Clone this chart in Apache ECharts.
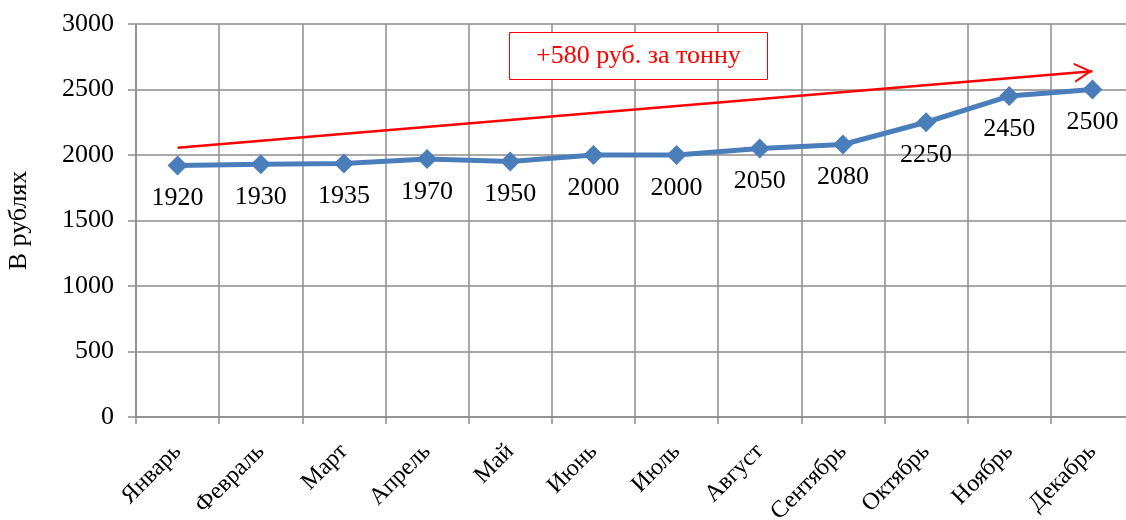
<!DOCTYPE html>
<html>
<head>
<meta charset="utf-8">
<script src="https://cdn.jsdelivr.net/npm/echarts@6/dist/echarts.min.js"></script>
<style>
  html, body { margin: 0; padding: 0; background: #fff; overflow: hidden; }
  /* the plot's last column runs a few pixels past the window edge */
  #chart { width: 1134px; height: 520px; }
</style>
</head>
<body>
<div id="chart"></div>
<script>
// Monthly price per tonne, rubles
const months = ['Январь', 'Февраль', 'Март', 'Апрель', 'Май', 'Июнь', 'Июль', 'Август', 'Сентябрь', 'Октябрь', 'Ноябрь', 'Декабрь'];
const prices = [1920, 1930, 1935, 1970, 1950, 2000, 2000, 2050, 2080, 2250, 2450, 2500];
const yTicks = [0, 500, 1000, 1500, 2000, 2500, 3000];
// Trend arrow endpoints (value level at first and last month)
const trendFrom = ['Январь', 2055];
const trendTo = ['Декабрь', 2640];
const trendNote = '+580 руб. за тонну';

const serif = '"Liberation Serif", "Times New Roman", serif';
const gridGray = '#8c8c8c';

// open arrowhead; the empty move at the top puts the tip at the symbol centre
const arrowHead = 'path://M10,-18 L10,-18 M10,0 L20,18 L17.8,18 L10,4 L2.2,18 L0,18 Z';

const chart = echarts.init(document.getElementById('chart'));
chart.setOption({
  animation: false,
  backgroundColor: '#fff',
  textStyle: { fontFamily: serif },
  title: {
    text: trendNote,
    left: 509,
    top: 32,
    padding: [11, 27, 11, 27],
    borderColor: '#ff0000',
    borderWidth: 1,
    backgroundColor: '#fff',
    textStyle: { color: '#ff0000', fontSize: 26, fontWeight: 'normal', fontFamily: serif }
  },
  grid: { left: 136, top: 24, right: 0, height: 393, containLabel: false, outerBoundsMode: 'none' },
  xAxis: {
    type: 'category',
    data: months,
    boundaryGap: true,
    axisLine: { lineStyle: { color: gridGray, width: 1.5 } },
    axisTick: { show: true, alignWithLabel: false, length: 7, lineStyle: { color: gridGray, width: 1.5 } },
    splitLine: { show: true, interval: 0, lineStyle: { color: gridGray, width: 1.5 } },
    axisLabel: { rotate: 45, interval: 0, margin: 31, color: '#000', fontSize: 24, fontFamily: serif }
  },
  yAxis: {
    type: 'value',
    min: yTicks[0],
    max: yTicks[yTicks.length - 1],
    interval: yTicks[1] - yTicks[0],
    name: 'В рублях',
    nameLocation: 'middle',
    nameGap: 104,
    nameRotate: 90,
    nameTextStyle: { color: '#000', fontSize: 26, fontFamily: serif },
    axisLine: { show: true, lineStyle: { color: gridGray, width: 1.5 } },
    axisTick: { show: true, length: 8, lineStyle: { color: gridGray, width: 1.5 } },
    splitLine: { show: true, lineStyle: { color: gridGray, width: 1.5 } },
    axisLabel: { margin: 22, color: '#000', fontSize: 26, fontFamily: serif, formatter: v => String(v) }
  },
  series: [{
    type: 'line',
    data: prices,
    symbol: 'diamond',
    symbolSize: 20,
    lineStyle: { color: '#4a7ebb', width: 5 },
    itemStyle: { color: '#4a7ebb' },
    label: {
      show: true,
      position: 'bottom',
      distance: 10,
      color: '#000',
      fontSize: 26,
      fontFamily: serif
    },
    markLine: {
      silent: true,
      symbol: ['none', arrowHead],
      symbolSize: [20, 36],
      label: { show: false },
      lineStyle: { color: '#ff0000', width: 2.5, type: 'solid' },
      data: [[
        { coord: trendFrom },
        { coord: trendTo }
      ]]
    }
  }]
});
</script>
</body>
</html>
